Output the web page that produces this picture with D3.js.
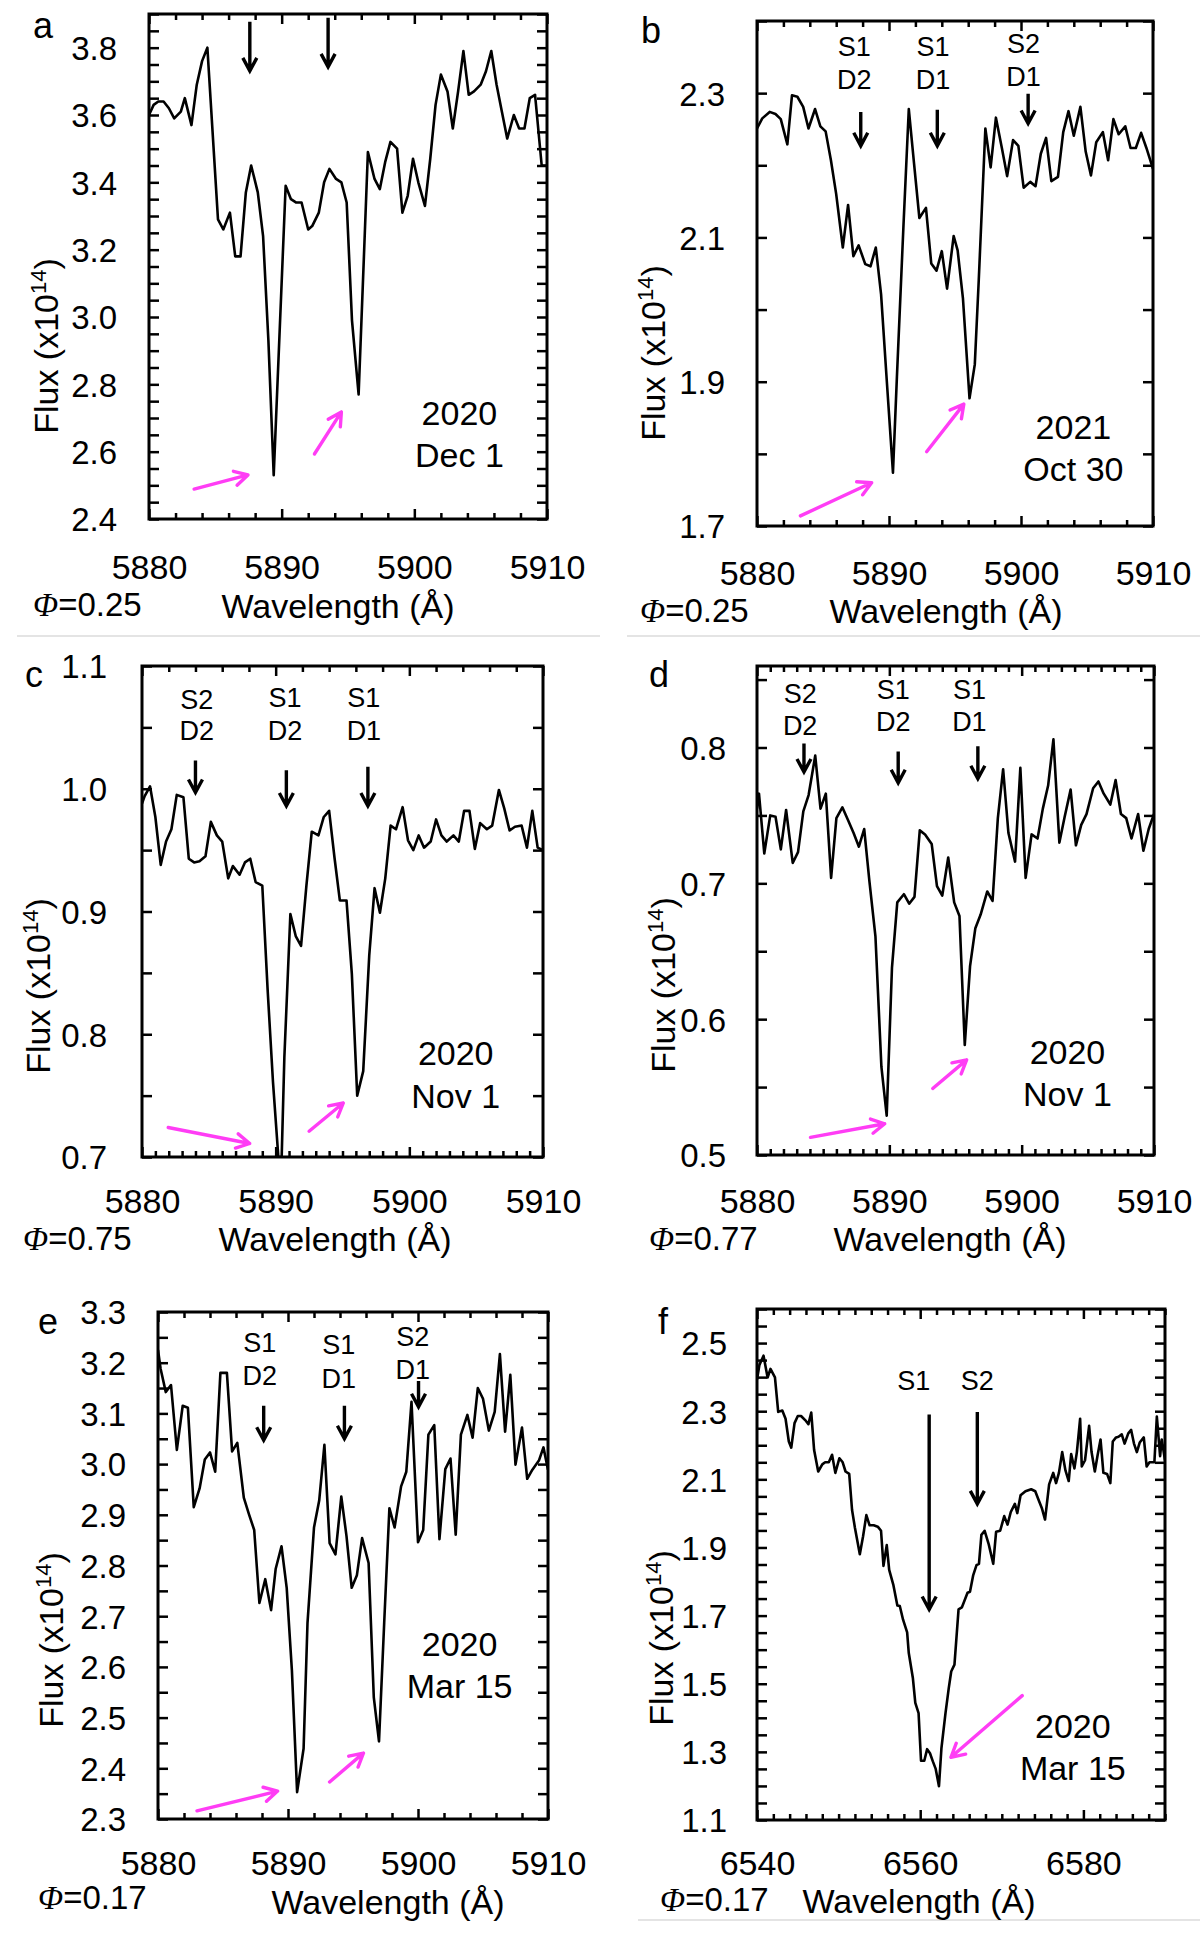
<!DOCTYPE html>
<html>
<head>
<meta charset="utf-8">
<script src="https://cdn.jsdelivr.net/npm/d3@7"></script>
<style>
    body { margin: 0; background: #fff; }
</style>
</head>
<body>
<svg id="mainFrame"></svg>
<script>
// ---- spectra: [wavelength (A), flux (x10^14)] ----
const specA = [[5880.0,3.60],[5880.35,3.63],[5880.7,3.64],[5881.1,3.64],[5881.5,3.62],[5881.9,3.59],[5882.4,3.61],[5882.7,3.65],[5883.2,3.57],[5883.6,3.69],[5884.0,3.76],[5884.4,3.80],[5885.2,3.29],[5885.6,3.26],[5886.1,3.31],[5886.5,3.18],[5886.9,3.18],[5887.3,3.37],[5887.7,3.45],[5888.2,3.37],[5888.6,3.24],[5889.0,2.93],[5889.4,2.53],[5890.3,3.39],[5890.7,3.35],[5891.1,3.34],[5891.5,3.34],[5892.0,3.26],[5892.3,3.27],[5892.8,3.31],[5893.2,3.40],[5893.6,3.44],[5894.1,3.41],[5894.5,3.40],[5894.9,3.34],[5895.3,2.99],[5895.8,2.77],[5896.2,3.18],[5896.5,3.49],[5897.0,3.41],[5897.4,3.38],[5897.8,3.46],[5898.2,3.52],[5898.7,3.50],[5899.1,3.31],[5899.5,3.36],[5899.9,3.47],[5900.3,3.40],[5900.8,3.33],[5901.2,3.47],[5901.6,3.63],[5902.0,3.72],[5902.5,3.67],[5902.9,3.56],[5903.3,3.67],[5903.7,3.79],[5904.1,3.66],[5904.5,3.67],[5905.0,3.69],[5905.4,3.73],[5905.8,3.79],[5906.2,3.69],[5906.6,3.61],[5907.0,3.53],[5907.5,3.60],[5907.9,3.56],[5908.3,3.56],[5908.7,3.65],[5909.1,3.66],[5909.6,3.45],[5910.0,3.45]]

const specB = [[5880.0,2.251],[5880.4,2.265],[5880.96,2.274],[5881.4,2.271],[5881.8,2.264],[5882.3,2.229],[5882.65,2.297],[5883.06,2.295],[5883.5,2.281],[5883.9,2.251],[5884.4,2.278],[5884.8,2.254],[5885.2,2.247],[5885.6,2.207],[5886.0,2.160],[5886.5,2.086],[5886.9,2.145],[5887.3,2.074],[5887.7,2.089],[5888.2,2.063],[5888.6,2.060],[5889.0,2.086],[5889.4,2.021],[5889.8,1.910],[5890.3,1.774],[5890.6,1.907],[5891.1,2.118],[5891.5,2.278],[5891.9,2.202],[5892.3,2.127],[5892.8,2.141],[5893.2,2.064],[5893.6,2.054],[5894.0,2.081],[5894.4,2.029],[5894.9,2.102],[5895.2,2.082],[5895.6,2.016],[5896.1,1.877],[5896.5,1.924],[5896.8,2.041],[5897.3,2.251],[5897.7,2.197],[5898.1,2.266],[5898.55,2.224],[5898.95,2.185],[5899.4,2.235],[5899.8,2.227],[5900.2,2.169],[5900.7,2.177],[5901.1,2.171],[5901.5,2.216],[5901.9,2.238],[5902.3,2.178],[5902.8,2.184],[5903.2,2.246],[5903.6,2.275],[5904.0,2.241],[5904.5,2.281],[5904.9,2.219],[5905.3,2.186],[5905.7,2.232],[5906.2,2.246],[5906.6,2.207],[5907.0,2.264],[5907.4,2.243],[5907.9,2.254],[5908.3,2.224],[5908.7,2.224],[5909.1,2.245],[5909.5,2.224],[5910.0,2.195]]

const specC = [[5880.0,0.988],[5880.2,0.994],[5880.6,1.002],[5881.0,0.977],[5881.4,0.938],[5881.8,0.957],[5882.2,0.967],[5882.6,0.995],[5883.1,0.993],[5883.5,0.943],[5883.9,0.940],[5884.3,0.941],[5884.75,0.945],[5885.15,0.973],[5885.6,0.962],[5886.0,0.957],[5886.45,0.927],[5886.8,0.937],[5887.3,0.930],[5887.7,0.940],[5888.1,0.943],[5888.5,0.924],[5889.0,0.921],[5889.4,0.836],[5889.8,0.761],[5890.2,0.700],[5890.45,0.700],[5890.65,0.781],[5891.1,0.898],[5891.5,0.880],[5891.9,0.872],[5892.3,0.921],[5892.7,0.965],[5893.2,0.962],[5893.6,0.977],[5894.0,0.982],[5894.4,0.944],[5894.8,0.909],[5895.3,0.909],[5895.7,0.849],[5896.1,0.750],[5896.55,0.770],[5897.0,0.864],[5897.4,0.919],[5897.8,0.899],[5898.2,0.927],[5898.6,0.970],[5899.0,0.967],[5899.5,0.985],[5899.9,0.958],[5900.3,0.950],[5900.7,0.962],[5901.1,0.952],[5901.6,0.957],[5902.0,0.975],[5902.4,0.962],[5902.8,0.957],[5903.3,0.962],[5903.7,0.957],[5904.1,0.982],[5904.5,0.982],[5904.9,0.951],[5905.3,0.972],[5905.8,0.967],[5906.2,0.970],[5906.7,0.999],[5907.1,0.984],[5907.5,0.966],[5907.9,0.969],[5908.4,0.970],[5908.8,0.952],[5909.2,0.982],[5909.6,0.952],[5910.0,0.950]]

const specD = [[5880.0,0.755],[5880.15,0.766],[5880.55,0.722],[5881.0,0.750],[5881.4,0.749],[5881.8,0.725],[5882.2,0.754],[5882.7,0.715],[5883.1,0.723],[5883.5,0.753],[5883.9,0.765],[5884.4,0.794],[5884.8,0.755],[5885.2,0.766],[5885.6,0.704],[5886.0,0.748],[5886.45,0.756],[5886.9,0.746],[5887.3,0.737],[5887.7,0.727],[5888.1,0.740],[5888.5,0.701],[5888.95,0.661],[5889.4,0.565],[5889.8,0.529],[5890.2,0.638],[5890.6,0.686],[5891.1,0.692],[5891.5,0.685],[5891.9,0.690],[5892.3,0.739],[5892.7,0.736],[5893.2,0.729],[5893.6,0.698],[5894.0,0.691],[5894.45,0.719],[5894.9,0.686],[5895.3,0.676],[5895.7,0.581],[5896.1,0.639],[5896.5,0.667],[5896.9,0.677],[5897.4,0.694],[5897.8,0.687],[5898.2,0.748],[5898.6,0.784],[5899.0,0.737],[5899.5,0.716],[5899.9,0.785],[5900.3,0.704],[5900.75,0.736],[5901.2,0.733],[5901.6,0.755],[5902.0,0.772],[5902.4,0.806],[5902.85,0.730],[5903.25,0.749],[5903.7,0.769],[5904.1,0.728],[5904.5,0.743],[5904.9,0.751],[5905.4,0.770],[5905.8,0.775],[5906.2,0.766],[5906.7,0.758],[5907.1,0.776],[5907.5,0.751],[5907.9,0.748],[5908.3,0.733],[5908.8,0.751],[5909.2,0.724],[5909.6,0.740],[5910.0,0.751]]

const specE = [[5880.0,3.225],[5880.2,3.188],[5880.6,3.142],[5881.0,3.156],[5881.45,3.028],[5881.9,3.115],[5882.3,3.111],[5882.75,2.915],[5883.2,2.952],[5883.6,3.009],[5884.0,3.023],[5884.4,2.985],[5884.8,3.180],[5885.3,3.180],[5885.7,3.025],[5886.1,3.042],[5886.6,2.934],[5887.0,2.901],[5887.4,2.870],[5887.8,2.726],[5888.25,2.773],[5888.7,2.712],[5889.05,2.793],[5889.5,2.838],[5889.9,2.756],[5890.3,2.593],[5890.7,2.353],[5891.2,2.439],[5891.5,2.687],[5892.0,2.875],[5892.4,2.928],[5892.8,3.038],[5893.2,2.844],[5893.65,2.822],[5894.1,2.936],[5894.5,2.858],[5894.9,2.756],[5895.3,2.781],[5895.7,2.854],[5896.2,2.805],[5896.6,2.540],[5897.0,2.453],[5897.4,2.687],[5897.8,2.913],[5898.2,2.875],[5898.7,2.956],[5899.1,2.985],[5899.5,3.123],[5900.0,2.846],[5900.4,2.870],[5900.8,3.058],[5901.25,3.077],[5901.65,2.852],[5902.1,2.990],[5902.5,3.011],[5902.9,2.861],[5903.3,3.058],[5903.8,3.097],[5904.2,3.052],[5904.6,3.150],[5905.0,3.129],[5905.45,3.066],[5905.9,3.103],[5906.3,3.217],[5906.7,3.064],[5907.1,3.176],[5907.5,2.999],[5908.0,3.072],[5908.4,2.971],[5908.8,2.989],[5909.3,3.007],[5909.65,3.033],[5910.0,2.989]]

const specF = [[6540.0,2.393],[6540.3,2.436],[6540.8,2.463],[6541.3,2.399],[6541.65,2.424],[6542.2,2.399],[6542.6,2.298],[6543.1,2.302],[6543.5,2.278],[6543.9,2.211],[6544.2,2.193],[6544.6,2.265],[6545.0,2.286],[6545.4,2.286],[6545.9,2.274],[6546.3,2.262],[6546.65,2.296],[6547.0,2.186],[6547.5,2.123],[6548.0,2.144],[6548.35,2.150],[6548.8,2.150],[6549.2,2.172],[6549.6,2.119],[6550.1,2.162],[6550.5,2.150],[6550.85,2.123],[6551.3,2.116],[6551.65,2.010],[6552.0,1.958],[6552.6,1.880],[6553.0,1.933],[6553.4,1.995],[6553.8,1.965],[6554.3,1.965],[6554.8,1.961],[6555.2,1.949],[6555.5,1.846],[6555.9,1.907],[6556.2,1.834],[6556.7,1.791],[6557.2,1.730],[6557.5,1.728],[6557.9,1.688],[6558.4,1.651],[6558.6,1.590],[6559.1,1.517],[6559.4,1.444],[6559.8,1.414],[6560.1,1.274],[6560.5,1.274],[6560.85,1.308],[6561.2,1.296],[6561.55,1.272],[6561.9,1.250],[6562.3,1.199],[6562.6,1.310],[6563.1,1.414],[6563.5,1.487],[6563.8,1.536],[6564.2,1.556],[6564.7,1.718],[6565.1,1.724],[6565.4,1.742],[6565.8,1.767],[6566.1,1.770],[6566.5,1.819],[6566.9,1.848],[6567.2,1.852],[6567.5,1.937],[6567.9,1.949],[6568.4,1.909],[6568.95,1.852],[6569.3,1.946],[6569.8,1.949],[6570.3,1.992],[6570.7,1.967],[6571.1,2.004],[6571.6,2.028],[6571.9,2.001],[6572.3,2.053],[6572.9,2.065],[6573.6,2.071],[6574.1,2.065],[6574.5,2.040],[6574.9,2.016],[6575.3,1.982],[6575.8,2.085],[6576.3,2.119],[6576.65,2.089],[6577.0,2.119],[6577.4,2.180],[6577.8,2.126],[6578.2,2.095],[6578.5,2.174],[6578.9,2.132],[6579.2,2.180],[6579.6,2.278],[6579.8,2.138],[6580.2,2.156],[6580.7,2.257],[6581.0,2.180],[6581.4,2.123],[6581.75,2.172],[6582.1,2.217],[6582.45,2.119],[6582.9,2.116],[6583.3,2.089],[6583.6,2.211],[6584.0,2.223],[6584.3,2.225],[6584.7,2.232],[6585.05,2.205],[6585.5,2.235],[6585.85,2.245],[6586.2,2.205],[6586.55,2.180],[6586.9,2.208],[6587.4,2.223],[6587.75,2.138],[6588.1,2.150],[6588.7,2.150],[6589.0,2.284],[6589.4,2.168],[6589.6,2.217],[6590.0,2.156]]

// ---- line markers: [wavelength, flux at arrow tail, flux at arrow tip] ----
const arrowsA = [[5887.6, 3.877, 3.731], [5893.5, 3.889, 3.743]]
const arrowsB = [[5887.86, 2.274, 2.227], [5893.66, 2.277, 2.227], [5900.54, 2.299, 2.258]]
const arrowsC = [[5884.0, 1.023, 0.997], [5890.8, 1.015, 0.986], [5896.9, 1.018, 0.986]]
const arrowsD = [[5883.55, 0.803, 0.782], [5890.67, 0.797, 0.774], [5896.69, 0.801, 0.777]]
const arrowsE = [[5888.13, 3.115, 3.047], [5894.34, 3.115, 3.050], [5900.04, 3.164, 3.113]]
const arrowsF = [[6561.1, 2.29, 1.718], [6567.0, 2.298, 2.028]]

// ---- marker names: [wavelength, line 1, line 2, flux of line 1, flux of line 2] ----
const namesA = []
const namesB = [[5887.37, 'S1', 'D2', 2.352, 2.306], [5893.34, 'S1', 'D1', 2.352, 2.306], [5900.19, 'S2', 'D1', 2.356, 2.310]]
const namesC = [[5884.1, 'S2', 'D2', 1.065, 1.040], [5890.7, 'S1', 'D2', 1.067, 1.040], [5896.6, 'S1', 'D1', 1.067, 1.040]]
const namesD = [[5883.26, 'S2', 'D2', 0.833, 0.809], [5890.3, 'S1', 'D2', 0.836, 0.812], [5896.05, 'S1', 'D1', 0.836, 0.812]]
const namesE = [[5887.83, 'S1', 'D2', 3.221, 3.156], [5893.9, 'S1', 'D1', 3.217, 3.150], [5899.6, 'S2', 'D1', 3.233, 3.168]]
const namesF = [[6559.2, 'S1', '', 2.363, 0], [6567.0, 'S2', '', 2.363, 0]]

// ---- magenta pointers: [wavelength from, flux from, wavelength to, flux to] ----
const pinkA = [[5883.4, 2.489, 5887.46, 2.531], [5892.47, 2.593, 5894.5, 2.718]]
const pinkB = [[5883.29, 1.714, 5888.68, 1.760], [5892.85, 1.803, 5895.67, 1.869]]
const pinkC = [[5881.96, 0.724, 5888.06, 0.711], [5892.5, 0.721, 5895.06, 0.744]]
const pinkD = [[5884.04, 0.513, 5889.65, 0.523], [5893.28, 0.549, 5895.84, 0.570]]
const pinkE = [[5883.0, 2.316, 5889.2, 2.355], [5893.2, 2.373, 5895.8, 2.430]]
const pinkF = [[6572.5, 1.465, 6563.77, 1.284]]

// ---- dates [line 1, line 2, wavelength of centre, flux of line 1, flux of line 2] and phases ----
const dates = [
    ['2020', 'Dec 1', 5903.4, 2.68, 2.553],
    ['2021', 'Oct 30', 5903.97, 1.821, 1.763],
    ['2020', 'Nov 1', 5903.47, 0.7747, 0.7398],
    ['2020', 'Nov 1', 5903.46, 0.5667, 0.536],
    ['2020', 'Mar 15', 5903.2, 2.622, 2.539],
    ['2020', 'Mar 15', 6578.7, 1.341, 1.216]
]
const phases = ['0.25', '0.25', '0.75', '0.77', '0.17', '0.17']
const letters = ['a', 'b', 'c', 'd', 'e', 'f']

// ---- axes ----
const naWave = [5880, 5910]
const naWaveLabels = [5880, 5890, 5900, 5910]
const haWave = [6540, 6590]
const haWaveLabels = [6540, 6560, 6580]
const fluxDomains = [[2.4, 3.9], [1.7, 2.4], [0.7, 1.1], [0.5, 0.86], [2.3, 3.3], [1.1, 2.6]]
const fluxLabels = [
    [2.4, 2.6, 2.8, 3.0, 3.2, 3.4, 3.6, 3.8],
    [1.7, 1.9, 2.1, 2.3],
    [0.7, 0.8, 0.9, 1.0, 1.1],
    [0.5, 0.6, 0.7, 0.8],
    [2.3, 2.4, 2.5, 2.6, 2.7, 2.8, 2.9, 3.0, 3.1, 3.2, 3.3],
    [1.1, 1.3, 1.5, 1.7, 1.9, 2.1, 2.3, 2.5]
]

// layout of each panel on the page (pixels)
const panels = [
    { spec: specA, arrows: arrowsA, names: namesA, pink: pinkA, xDomain: naWave, xLabels: naWaveLabels,
      left: 149, top: 14, right: 547, bottom: 519, xTop: 2, xBottom: 2, yStep: 0.05,
      ylabRight: 117, xlabBase: 579, titleX: 338, titleBase: 618, phiX: 33, phiBase: 616, fluxX: 58, fluxY: 346, letterX: 33, letterBase: 38 },
    { spec: specB, arrows: arrowsB, names: namesB, pink: pinkB, xDomain: naWave, xLabels: naWaveLabels,
      left: 757, top: 21, right: 1153, bottom: 526, xTop: 2, xBottom: 2, yStep: 0.1,
      ylabRight: 725, xlabBase: 585, titleX: 946, titleBase: 623, phiX: 640, phiBase: 622, fluxX: 665, fluxY: 353, letterX: 641, letterBase: 43 },
    { spec: specC, arrows: arrowsC, names: namesC, pink: pinkC, xDomain: naWave, xLabels: naWaveLabels,
      left: 142, top: 666, right: 543, bottom: 1157, xTop: 2, xBottom: 1, yStep: 0.05,
      ylabRight: 107, xlabBase: 1213, titleX: 335, titleBase: 1251, phiX: 23, phiBase: 1250, fluxX: 50, fluxY: 986, letterX: 25, letterBase: 687 },
    { spec: specD, arrows: arrowsD, names: namesD, pink: pinkD, xDomain: naWave, xLabels: naWaveLabels,
      left: 757, top: 666, right: 1154, bottom: 1155, xTop: 1, xBottom: 1, yStep: 0.05,
      ylabRight: 726, xlabBase: 1213, titleX: 950, titleBase: 1251, phiX: 649, phiBase: 1250, fluxX: 675, fluxY: 985, letterX: 649, letterBase: 687 },
    { spec: specE, arrows: arrowsE, names: namesE, pink: pinkE, xDomain: naWave, xLabels: naWaveLabels,
      left: 158, top: 1312, right: 548, bottom: 1819, xTop: 2, xBottom: 2, yStep: 0.05,
      ylabRight: 126, xlabBase: 1875, titleX: 388, titleBase: 1914, phiX: 38, phiBase: 1909, fluxX: 63, fluxY: 1640, letterX: 38, letterBase: 1334 },
    { spec: specF, arrows: arrowsF, names: namesF, pink: pinkF, xDomain: haWave, xLabels: haWaveLabels,
      left: 757, top: 1309, right: 1165, bottom: 1820, xTop: 2, xBottom: 2, yStep: 0.05,
      ylabRight: 727, xlabBase: 1875, titleX: 919, titleBase: 1913, phiX: 660, phiBase: 1911, fluxX: 673, fluxY: 1638, letterX: 658, letterBase: 1334 }
]

const FONT = '"Liberation Sans", Arial, Helvetica, sans-serif'
const PINK = '#ff3df5'

const svg = d3.select('#mainFrame')
    .attr('width', 1200)
    .attr('height', 1935)
    .style('font-family', FONT)

// faint separators between the panels
const separators = [[17, 600, 636], [627, 1200, 636], [638, 1200, 1920]]
svg.selectAll('line.sep').data(separators).join('line')
    .attr('class', 'sep')
    .attr('x1', d => d[0]).attr('x2', d => d[1])
    .attr('y1', d => d[2]).attr('y2', d => d[2])
    .attr('stroke', '#e4e4e4')
    .attr('stroke-width', 2)

const stepValues = (lo, hi, step) =>
    d3.range(Math.round((hi - lo) / step) + 1).map(i => +(lo + i * step).toFixed(4))

const styleAxis = sel => {
    sel.select('.domain').remove()
    sel.selectAll('line').attr('stroke', '#000').attr('stroke-width', 2.5)
}

const drawPanel = (p, i) => {
    const x = d3.scaleLinear().domain(p.xDomain).range([p.left, p.right])
    const y = d3.scaleLinear().domain(fluxDomains[i]).range([p.bottom, p.top])
    const g = svg.append('g').attr('id', 'panel-' + letters[i])

    const labelSet = new Set(p.xLabels)
    const fmtY = d3.format('.1f')

    // x ticks: short minor ones and longer labelled ones, drawn inward
    const minorBottom = stepValues(p.xDomain[0], p.xDomain[1], p.xBottom).filter(d => !labelSet.has(d))
    const minorTop = stepValues(p.xDomain[0], p.xDomain[1], p.xTop).filter(d => !labelSet.has(d))

    g.append('g').attr('transform', `translate(0,${p.bottom})`)
        .call(d3.axisBottom(x).tickValues(minorBottom).tickSize(-6).tickFormat(''))
        .call(styleAxis)

    g.append('g').attr('transform', `translate(0,${p.bottom})`)
        .call(d3.axisBottom(x).tickValues(p.xLabels).tickSize(-10).tickFormat(d3.format('d')))
        .call(styleAxis)
        .selectAll('text')
        .attr('y', p.xlabBase - p.bottom)
        .attr('dy', 0)
        .attr('fill', '#000')
        .attr('font-size', 34)
        .attr('font-family', FONT)

    g.append('g').attr('transform', `translate(0,${p.top})`)
        .call(d3.axisTop(x).tickValues(minorTop).tickSize(-6).tickFormat(''))
        .call(styleAxis)

    g.append('g').attr('transform', `translate(0,${p.top})`)
        .call(d3.axisTop(x).tickValues(p.xLabels).tickSize(-10).tickFormat(''))
        .call(styleAxis)

    // y ticks on both sides
    const yLabelSet = new Set(fluxLabels[i])
    const yTicks = stepValues(fluxDomains[i][0], fluxDomains[i][1], p.yStep)

    g.append('g').attr('transform', `translate(${p.left},0)`)
        .call(d3.axisLeft(y).tickValues(yTicks).tickSize(-10)
            .tickFormat(d => yLabelSet.has(d) ? fmtY(d) : ''))
        .call(styleAxis)
        .selectAll('text')
        .attr('x', -(p.left - p.ylabRight))
        .attr('dy', '0.36em')
        .attr('fill', '#000')
        .attr('font-size', 33)
        .attr('font-family', FONT)

    g.append('g').attr('transform', `translate(${p.right},0)`)
        .call(d3.axisRight(y).tickValues(yTicks).tickSize(-10).tickFormat(''))
        .call(styleAxis)

    // spectrum
    const clipId = 'clip-' + letters[i]
    g.append('clipPath').attr('id', clipId)
        .append('rect')
        .attr('x', p.left).attr('y', p.top)
        .attr('width', p.right - p.left).attr('height', p.bottom - p.top)

    const line = d3.line()
        .x(d => x(d[0]))
        .y(d => y(d[1]))

    g.append('path')
        .attr('clip-path', `url(#${clipId})`)
        .attr('d', line(p.spec))
        .attr('fill', 'none')
        .attr('stroke', '#000')
        .attr('stroke-width', 2.6)
        .attr('stroke-linejoin', 'round')

    // frame
    g.append('rect')
        .attr('x', p.left).attr('y', p.top)
        .attr('width', p.right - p.left).attr('height', p.bottom - p.top)
        .attr('fill', 'none')
        .attr('stroke', '#000')
        .attr('stroke-width', 3)

    // black down arrows marking the lines
    g.selectAll('path.mark').data(p.arrows).join('path')
        .attr('class', 'mark')
        .attr('d', d => {
            const ax = x(d[0]), y0 = y(d[1]), y1 = y(d[2])
            return `M${ax},${y0}L${ax},${y1}M${ax - 7},${y1 - 13}L${ax},${y1}L${ax + 7},${y1 - 13}`
        })
        .attr('fill', 'none')
        .attr('stroke', '#000')
        .attr('stroke-width', 3.4)

    // names above the arrows
    p.names.forEach(d => {
        g.append('text')
            .attr('x', x(d[0])).attr('y', y(d[3]))
            .attr('text-anchor', 'middle')
            .attr('font-size', 27)
            .text(d[1])
        if (d[2]) {
            g.append('text')
                .attr('x', x(d[0])).attr('y', y(d[4]))
                .attr('text-anchor', 'middle')
                .attr('font-size', 27)
                .text(d[2])
        }
    })

    // magenta pointers
    g.selectAll('path.pink').data(p.pink).join('path')
        .attr('class', 'pink')
        .attr('d', d => {
            const x0 = x(d[0]), y0 = y(d[1]), x1 = x(d[2]), y1 = y(d[3])
            const a = Math.atan2(y1 - y0, x1 - x0)
            const h = 15, s = 0.5
            const hx1 = x1 - h * Math.cos(a - s), hy1 = y1 - h * Math.sin(a - s)
            const hx2 = x1 - h * Math.cos(a + s), hy2 = y1 - h * Math.sin(a + s)
            return `M${x0},${y0}L${x1},${y1}M${hx1},${hy1}L${x1},${y1}L${hx2},${hy2}`
        })
        .attr('fill', 'none')
        .attr('stroke', PINK)
        .attr('stroke-width', 3.4)
        .attr('stroke-linecap', 'round')
        .attr('stroke-linejoin', 'round')

    // date of the observation
    const dt = dates[i]
    g.append('text').attr('x', x(dt[2])).attr('y', y(dt[3]))
        .attr('text-anchor', 'middle').attr('font-size', 34).text(dt[0])
    g.append('text').attr('x', x(dt[2])).attr('y', y(dt[4]))
        .attr('text-anchor', 'middle').attr('font-size', 34).text(dt[1])

    // axis titles
    g.append('text')
        .attr('x', p.titleX).attr('y', p.titleBase)
        .attr('text-anchor', 'middle')
        .attr('font-size', 34)
        .text('Wavelength (Å)')

    const fluxTitle = g.append('text')
        .attr('transform', `translate(${p.fluxX},${p.fluxY}) rotate(-90)`)
        .attr('text-anchor', 'middle')
        .attr('font-size', 34)
    fluxTitle.append('tspan').text('Flux (x10')
    fluxTitle.append('tspan').attr('dy', -12).attr('font-size', 22).text('14')
    fluxTitle.append('tspan').attr('dy', 12).text(')')

    const phi = g.append('text')
        .attr('x', p.phiX).attr('y', p.phiBase)
        .attr('font-size', 33)
    phi.append('tspan')
        .attr('font-family', '"Liberation Serif", "Times New Roman", serif')
        .attr('font-style', 'italic')
        .text('Φ')
    phi.append('tspan').text('=' + phases[i])

    g.append('text')
        .attr('x', p.letterX).attr('y', p.letterBase)
        .attr('font-size', 36)
        .text(letters[i])
}

panels.forEach(drawPanel)
</script>
</body>
</html>
